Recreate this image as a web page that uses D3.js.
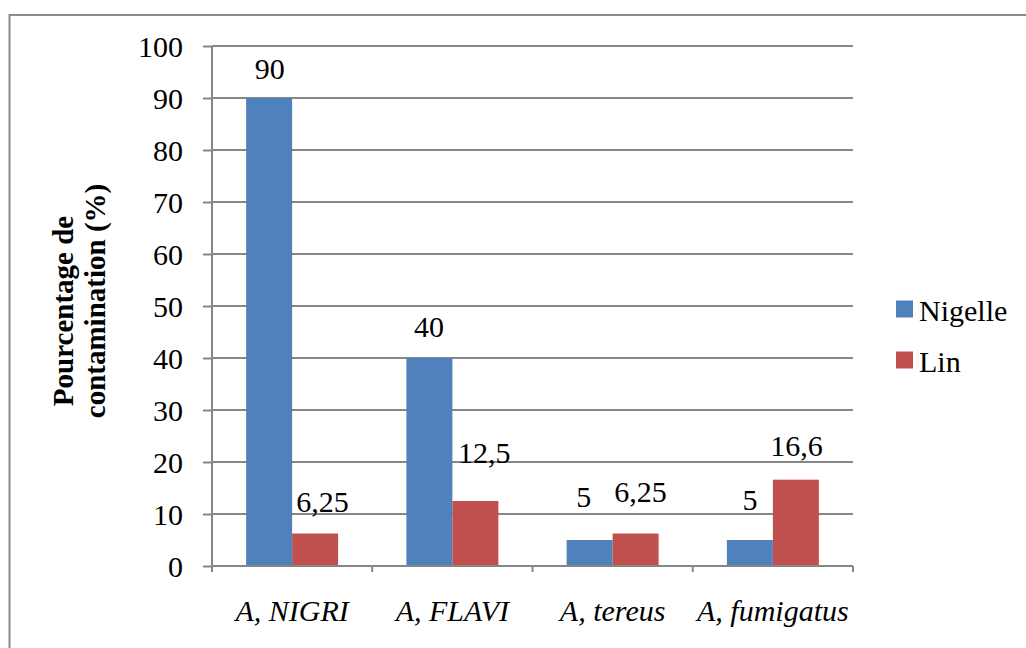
<!DOCTYPE html>
<html>
<head>
<meta charset="utf-8">
<script src="https://cdn.jsdelivr.net/npm/d3@7"></script>
<style>
  html, body { margin: 0; padding: 0; background: #fff; }
  svg { display: block; }
</style>
</head>
<body>
<svg id="chart" width="1026" height="648"></svg>
<script>
// Species and contamination percentages
const categories = ["A, NIGRI", "A, FLAVI", "A, tereus", "A, fumigatus"];
const seriesNames = ["Nigelle", "Lin"];
const nigelle = [90, 40, 5, 5];
const lin = [6.25, 12.5, 6.25, 16.6];
const valueLabels = [["90", "40", "5", "5"], ["6,25", "12,5", "6,25", "16,6"]];
const yTicks = [0, 10, 20, 30, 40, 50, 60, 70, 80, 90, 100];

// Hand-placed data label nudges (dx, extra lift above the bar top)
const labelNudge = {
  Nigelle: { dx: [0.5, -0.5, -6, 0], lift: [19, 21, 33, 30] },
  Lin: { dx: [7.5, 9, 5, 0.7], lift: [22, 38, 32, 24] }
};

const SERIF = '"Liberation Serif", "Times New Roman", Times, serif';
const colors = { Nigelle: "#4F81BD", Lin: "#C0504D" };
const gridColor = "#868686";

const svg = d3.select("#chart");

// Outer frame
svg.append("rect")
  .attr("x", 9.5).attr("y", 15)
  .attr("width", 1100).attr("height", 700)
  .attr("fill", "none")
  .attr("stroke", "#8c8c8c")
  .attr("stroke-width", 2);

const plot = { left: 212, right: 853, top: 46, bottom: 566 };

const y = d3.scaleLinear().domain([0, 100]).range([plot.bottom, plot.top]);
const x0 = d3.scaleBand().domain(categories).range([plot.left, plot.right]).padding(0);
const groupW = x0.bandwidth() * 0.574;
const x1 = d3.scaleBand().domain(seriesNames)
  .range([(x0.bandwidth() - groupW) / 2, (x0.bandwidth() + groupW) / 2]).padding(0);

// Horizontal gridlines
svg.append("g")
  .selectAll("line")
  .data(yTicks.filter(d => d > 0))
  .join("line")
  .attr("x1", plot.left).attr("x2", plot.right)
  .attr("y1", d => y(d)).attr("y2", d => y(d))
  .attr("stroke", gridColor).attr("stroke-width", 2);

// Y axis
const yAxis = d3.axisLeft(y).tickValues(yTicks).tickSize(9).tickPadding(20)
  .tickFormat(d3.format("d"));
const gy = svg.append("g").attr("transform", `translate(${plot.left},0)`).call(yAxis);
gy.select(".domain").attr("stroke", gridColor).attr("stroke-width", 2)
  .attr("d", `M0,${plot.top}V${plot.bottom + 6}`);
gy.selectAll(".tick line").attr("stroke", gridColor).attr("stroke-width", 2);
gy.selectAll(".tick text")
  .style("font-family", SERIF)
  .style("font-size", "30px")
  .attr("fill", "#000")
  .attr("x", -29)
  .attr("dy", "0.34em");

// Bars
const seriesData = [nigelle, lin];
seriesNames.forEach((name, si) => {
  svg.append("g")
    .selectAll("rect")
    .data(categories)
    .join("rect")
    .attr("x", c => x0(c) + x1(name))
    .attr("y", (c, i) => y(seriesData[si][i]))
    .attr("width", x1.bandwidth())
    .attr("height", (c, i) => y(0) - y(seriesData[si][i]))
    .attr("fill", colors[name]);
});

// X axis line with category boundary ticks
const xAxisG = svg.append("g");
xAxisG.append("line")
  .attr("x1", plot.left).attr("x2", plot.right)
  .attr("y1", y(0)).attr("y2", y(0))
  .attr("stroke", gridColor).attr("stroke-width", 2);
const boundaries = categories.map(c => x0(c)).concat([plot.right]);
xAxisG.selectAll("line.tick")
  .data(boundaries)
  .join("line")
  .attr("class", "tick")
  .attr("x1", d => d).attr("x2", d => d)
  .attr("y1", y(0)).attr("y2", y(0) + 6)
  .attr("stroke", gridColor).attr("stroke-width", 2);

// Category labels
xAxisG.selectAll("text")
  .data(categories)
  .join("text")
  .attr("x", c => x0(c) + x0.bandwidth() / 2)
  .attr("y", 620.5)
  .attr("text-anchor", "middle")
  .attr("fill", "#000")
  .style("font-family", SERIF)
  .style("font-size", "30px")
  .style("font-style", "italic")
  .text(c => c);

// Value labels
seriesNames.forEach((name, si) => {
  svg.append("g")
    .selectAll("text")
    .data(categories)
    .join("text")
    .attr("x", (c, i) => x0(c) + x1(name) + x1.bandwidth() / 2 + labelNudge[name].dx[i])
    .attr("y", (c, i) => y(seriesData[si][i]) - labelNudge[name].lift[i])
    .attr("text-anchor", "middle")
    .attr("fill", "#000")
    .style("font-family", SERIF)
    .style("font-size", "30px")
    .text((c, i) => valueLabels[si][i]);
});

// Y axis title
const title = svg.append("text")
  .attr("transform", `translate(73,${(plot.top + plot.bottom) / 2}) rotate(-90)`)
  .attr("text-anchor", "middle")
  .attr("fill", "#000")
  .style("font-family", SERIF)
  .style("font-size", "29px")
  .style("font-weight", "bold");
title.append("tspan").attr("x", 0).attr("dy", 0).attr("dx", -5).text("Pourcentage de");
title.append("tspan").attr("x", 0).attr("dy", 32).attr("dx", 5).text("contamination (%)");

// Legend
const legend = svg.append("g");
const legendY = [300.5, 351.5];
seriesNames.forEach((name, i) => {
  legend.append("rect")
    .attr("x", 896).attr("y", legendY[i])
    .attr("width", 17).attr("height", 17)
    .attr("fill", colors[name]);
  legend.append("text")
    .attr("x", 919).attr("y", legendY[i] + 20)
    .attr("fill", "#000")
    .style("font-family", SERIF)
    .style("font-size", "30px")
    .text(name);
});
</script>
</body>
</html>
